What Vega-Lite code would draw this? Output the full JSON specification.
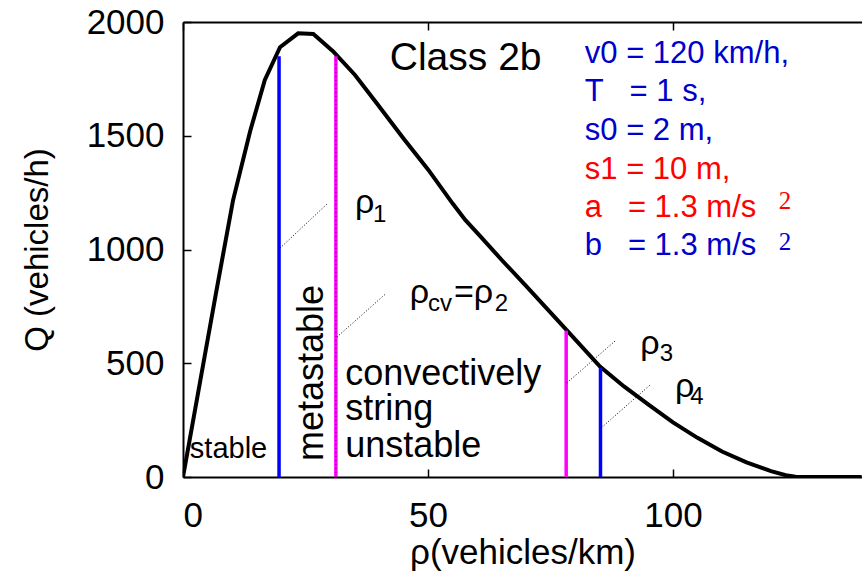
{
  "$schema": "https://vega.github.io/schema/vega-lite/v6.json",
  "width": 679,
  "height": 455,
  "autosize": {"type": "none"},
  "padding": {"left": 183, "top": 22, "right": 0, "bottom": 94},
  "background": "white",
  "config": {
    "view": {"stroke": null},
    "font": "Liberation Sans",
    "axis": {
      "grid": false,
      "labelFont": "Liberation Sans",
      "titleFont": "Liberation Sans",
      "labelFontSize": 35,
      "titleFontSize": 35,
      "titleFontWeight": "normal",
      "labelColor": "black",
      "titleColor": "black",
      "domainColor": "black",
      "tickColor": "black",
      "domainWidth": 2,
      "tickWidth": 1.5
    }
  },
  "datasets": {
    "curve": [
      {"rho": 0, "q": 0}, {"rho": 3.4, "q": 408}, {"rho": 6.8, "q": 816}, {"rho": 10.2, "q": 1215},
      {"rho": 13.7, "q": 1520}, {"rho": 16.7, "q": 1745}, {"rho": 19.8, "q": 1889}, {"rho": 23.5, "q": 1950},
      {"rho": 26.6, "q": 1947}, {"rho": 30.6, "q": 1872}, {"rho": 35.1, "q": 1767}, {"rho": 39.5, "q": 1644},
      {"rho": 45, "q": 1488}, {"rho": 50, "q": 1352}, {"rho": 55, "q": 1203}, {"rho": 57.6, "q": 1130},
      {"rho": 60.6, "q": 1060}, {"rho": 65, "q": 955}, {"rho": 70, "q": 840}, {"rho": 73, "q": 770},
      {"rho": 78.3, "q": 646}, {"rho": 85.1, "q": 485}, {"rho": 90, "q": 398}, {"rho": 95, "q": 318},
      {"rho": 100, "q": 240}, {"rho": 105, "q": 172}, {"rho": 110, "q": 112}, {"rho": 115, "q": 64},
      {"rho": 120, "q": 26}, {"rho": 123, "q": 8}, {"rho": 125, "q": 1.5}, {"rho": 127, "q": 0},
      {"rho": 138.5, "q": 0}
    ],
    "bounds": [
      {"rho": 19.6, "q": 0, "q2": 1850, "kind": "rho1/rho4"},
      {"rho": 31.2, "q": 0, "q2": 1850, "kind": "rho2/rho3"},
      {"rho": 78.2, "q": 0, "q2": 643, "kind": "rho2/rho3"},
      {"rho": 85.2, "q": 0, "q2": 480, "kind": "rho1/rho4"}
    ],
    "dotted": [
      {"rho": 31.2, "q": 0, "q2": 1850}
    ],
    "connectors": [
      {"rho": 19.8, "q": 1006, "rho2": 29.6, "q2": 1204},
      {"rho": 31.4, "q": 615, "rho2": 41.2, "q2": 802},
      {"rho": 78.3, "q": 413, "rho2": 88.4, "q2": 602},
      {"rho": 85.4, "q": 217, "rho2": 95.3, "q2": 404}
    ],
    "regions": [
      {"rho": 33.1, "q": 404, "label": "convectively"},
      {"rho": 33.1, "q": 250, "label": "string"},
      {"rho": 33.1, "q": 88, "label": "unstable"}
    ],
    "stable": [{"rho": 1.4, "q": 84, "label": "stable"}],
    "meta": [{"rho": 28.5, "q": 457, "label": "metastable"}],
    "cls": [{"rho": 42.2, "q": 1789, "label": "Class 2b"}],
    "paramsBlue": [
      {"rho": 82.0, "q": 1820, "label": "v0 = 120 km/h,"},
      {"rho": 82.0, "q": 1651, "label": "T\u00a0\u00a0\u00a0= 1 s,"},
      {"rho": 82.0, "q": 1481, "label": "s0 = 2 m,"},
      {"rho": 82.0, "q": 974, "label": "b\u00a0\u00a0\u00a0= 1.3 m/s"}
    ],
    "paramsRed": [
      {"rho": 82.0, "q": 1312, "label": "s1 = 10 m,"},
      {"rho": 82.0, "q": 1143, "label": "a\u00a0\u00a0\u00a0= 1.3 m/s"}
    ],
    "supBlue": [{"rho": 121.6, "q": 1000, "label": "2"}],
    "supRed": [{"rho": 121.6, "q": 1178, "label": "2"}],
    "rhoMain": [
      {"rho": 35.1, "q": 1160, "label": "ρ"},
      {"rho": 46.3, "q": 765, "label": "ρ"},
      {"rho": 55.3, "q": 765, "label": "=ρ"},
      {"rho": 93.3, "q": 541, "label": "ρ"},
      {"rho": 100.4, "q": 352, "label": "ρ"}
    ],
    "rhoSub": [
      {"rho": 38.8, "q": 1122, "label": "1"},
      {"rho": 50.0, "q": 730, "label": "cv"},
      {"rho": 63.6, "q": 730, "label": "2"},
      {"rho": 97.3, "q": 510, "label": "3"},
      {"rho": 103.5, "q": 321, "label": "4"}
    ]
  },
  "resolve": {"axis": {"x": "independent"}},
  "layer": [
    {
      "data": {"name": "curve"},
      "mark": {"type": "line", "color": "black", "strokeWidth": 4, "clip": true},
      "encoding": {
        "x": {"field": "rho", "type": "quantitative",
              "scale": {"domain": [0, 138.57], "nice": false, "zero": false},
              "axis": {"orient": "bottom", "values": [0, 50, 100], "title": "ρ(vehicles/km)",
                       "tickSize": -8, "labelPadding": 29, "titlePadding": 2}},
        "y": {"field": "q", "type": "quantitative",
              "scale": {"domain": [0, 2000], "nice": false},
              "axis": {"orient": "left", "values": [0, 500, 1000, 1500, 2000], "format": "d", "title": "Q (vehicles/h)",
                       "tickSize": -8, "labelPadding": 27, "titlePadding": 32, "titleFontSize": 33}}
      }
    },
    {
      "data": {"name": "bounds"},
      "mark": {"type": "rule", "strokeWidth": 3.5},
      "encoding": {
        "x": {"field": "rho", "type": "quantitative",
              "axis": {"orient": "top", "values": [0, 50, 100], "labels": false, "title": null, "tickSize": -8}},
        "y": {"field": "q", "type": "quantitative"},
        "y2": {"field": "q2"},
        "color": {"field": "kind", "type": "nominal",
                  "scale": {"domain": ["rho1/rho4", "rho2/rho3"], "range": ["#0000ff", "#ff00ff"]},
                  "legend": null}
      }
    },
    {
      "data": {"name": "dotted"},
      "mark": {"type": "rule", "strokeWidth": 1, "color": "#551155", "strokeDash": [1, 3]},
      "encoding": {
        "x": {"field": "rho", "type": "quantitative", "axis": null},
        "y": {"field": "q", "type": "quantitative"},
        "y2": {"field": "q2"}
      }
    },
    {
      "data": {"name": "connectors"},
      "mark": {"type": "rule", "strokeWidth": 1, "color": "black", "strokeDash": [1, 2]},
      "encoding": {
        "x": {"field": "rho", "type": "quantitative", "axis": null},
        "x2": {"field": "rho2"},
        "y": {"field": "q", "type": "quantitative"},
        "y2": {"field": "q2"}
      }
    },
    {
      "data": {"name": "regions"},
      "mark": {"type": "text", "fontSize": 36, "align": "left", "baseline": "alphabetic", "color": "black"},
      "encoding": {
        "x": {"field": "rho", "type": "quantitative", "axis": null},
        "y": {"field": "q", "type": "quantitative"},
        "text": {"field": "label"}
      }
    },
    {
      "data": {"name": "stable"},
      "mark": {"type": "text", "fontSize": 29, "align": "left", "baseline": "alphabetic", "color": "black"},
      "encoding": {
        "x": {"field": "rho", "type": "quantitative", "axis": null},
        "y": {"field": "q", "type": "quantitative"},
        "text": {"field": "label"}
      }
    },
    {
      "data": {"name": "meta"},
      "mark": {"type": "text", "fontSize": 36, "align": "center", "baseline": "alphabetic", "angle": 270, "color": "black"},
      "encoding": {
        "x": {"field": "rho", "type": "quantitative", "axis": null},
        "y": {"field": "q", "type": "quantitative"},
        "text": {"field": "label"}
      }
    },
    {
      "data": {"name": "cls"},
      "mark": {"type": "text", "fontSize": 39, "align": "left", "baseline": "alphabetic", "color": "black"},
      "encoding": {
        "x": {"field": "rho", "type": "quantitative", "axis": null},
        "y": {"field": "q", "type": "quantitative"},
        "text": {"field": "label"}
      }
    },
    {
      "data": {"name": "paramsBlue"},
      "mark": {"type": "text", "fontSize": 31, "align": "left", "baseline": "alphabetic", "color": "#0000cc"},
      "encoding": {
        "x": {"field": "rho", "type": "quantitative", "axis": null},
        "y": {"field": "q", "type": "quantitative"},
        "text": {"field": "label"}
      }
    },
    {
      "data": {"name": "paramsRed"},
      "mark": {"type": "text", "fontSize": 31, "align": "left", "baseline": "alphabetic", "color": "#ff0000"},
      "encoding": {
        "x": {"field": "rho", "type": "quantitative", "axis": null},
        "y": {"field": "q", "type": "quantitative"},
        "text": {"field": "label"}
      }
    },
    {
      "data": {"name": "supBlue"},
      "mark": {"type": "text", "font": "Liberation Serif", "fontSize": 25, "align": "left", "baseline": "alphabetic", "color": "#0000cc"},
      "encoding": {
        "x": {"field": "rho", "type": "quantitative", "axis": null},
        "y": {"field": "q", "type": "quantitative"},
        "text": {"field": "label"}
      }
    },
    {
      "data": {"name": "supRed"},
      "mark": {"type": "text", "font": "Liberation Serif", "fontSize": 25, "align": "left", "baseline": "alphabetic", "color": "#ff0000"},
      "encoding": {
        "x": {"field": "rho", "type": "quantitative", "axis": null},
        "y": {"field": "q", "type": "quantitative"},
        "text": {"field": "label"}
      }
    },
    {
      "data": {"name": "rhoMain"},
      "mark": {"type": "text", "fontSize": 34, "align": "left", "baseline": "alphabetic", "color": "black"},
      "encoding": {
        "x": {"field": "rho", "type": "quantitative", "axis": null},
        "y": {"field": "q", "type": "quantitative"},
        "text": {"field": "label"}
      }
    },
    {
      "data": {"name": "rhoSub"},
      "mark": {"type": "text", "fontSize": 24, "align": "left", "baseline": "alphabetic", "color": "black"},
      "encoding": {
        "x": {"field": "rho", "type": "quantitative", "axis": null},
        "y": {"field": "q", "type": "quantitative"},
        "text": {"field": "label"}
      }
    }
  ]
}
